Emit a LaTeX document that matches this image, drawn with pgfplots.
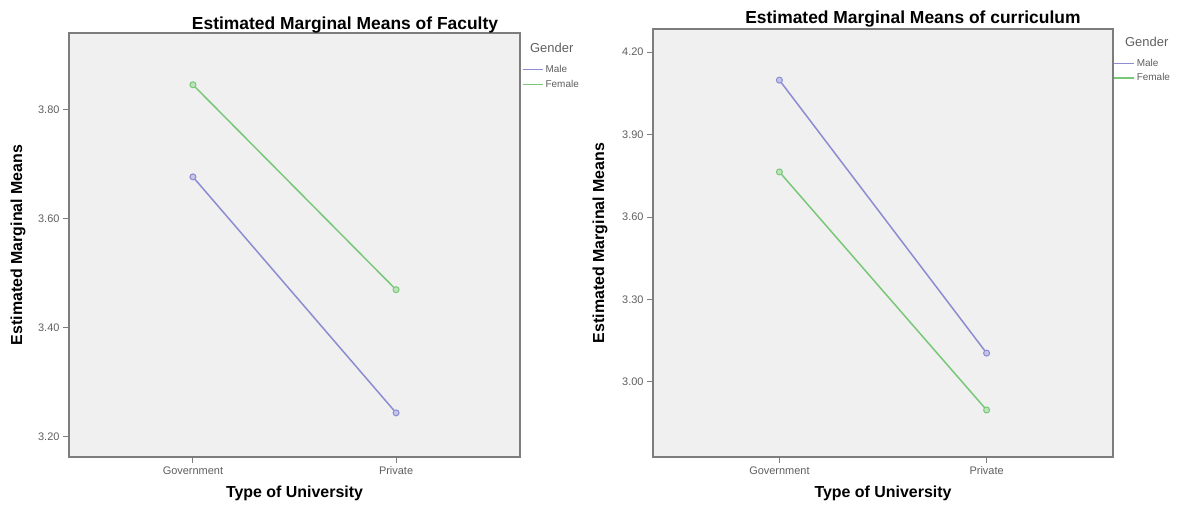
\documentclass[border=0pt]{standalone}
\usepackage{fontspec}
\setmainfont{Liberation Sans}
\usepackage{pgfplots}
\pgfplotsset{compat=1.18}
\definecolor{male}{RGB}{140,140,210}
\definecolor{female}{RGB}{120,200,120}
\definecolor{bg}{RGB}{240,240,240}
\definecolor{axgray}{RGB}{125,125,125}
\definecolor{txtgray}{RGB}{95,95,95}
\pgfplotsset{spss/.style={
  scale only axis, clip=false,
  axis background/.style={fill=bg},
  axis line style={axgray, line width=1.3bp},
  tick align=outside, xtick pos=bottom, ytick pos=left,
  major tick length=6bp,
  tick style={axgray, line width=1bp},
  xmin=0.39, xmax=2.61, xtick={1,2}, xticklabels={Government,Private},
  ticklabel style={font=\fontsize{11}{13}\selectfont, text=txtgray},
  yticklabel style={/pgf/number format/fixed, /pgf/number format/fixed zerofill, /pgf/number format/precision=2},
  /pgf/number format/assume math mode=true,
  label style={font=\fontsize{16}{18}\selectfont\bfseries},
  xlabel={Type of University}, ylabel={Estimated Marginal Means},
  title style={font=\fontsize{17.5}{20}\selectfont\bfseries, anchor=base},
  legend style={draw=none, fill=none, font=\fontsize{10}{12}\selectfont, text=txtgray, anchor=north west, inner sep=0pt, row sep=2bp, cells={anchor=west}},
  legend image code/.code={\draw[#1, line width=1.6bp] (0bp,0bp) -- (20bp,0bp);},
  every axis plot/.append style={line width=1.5bp},
}}
\begin{document}
\begin{tikzpicture}
\useasboundingbox (0,0) rectangle (1178bp,506bp);
% Left chart
\begin{axis}[spss,
  at={(69bp,49bp)}, anchor=south west, width=451bp, height=424bp,
  ymin=3.163, ymax=3.941, ytick={3.2,3.4,3.6,3.8},
  title={Estimated Marginal Means of Faculty},
  title style={at={(axis description cs:0.612,1)}, yshift=-2bp},
  xlabel style={at={(axis description cs:0.5,-0.085)}, anchor=center},
  ylabel style={at={(axis description cs:-0.113,0.5)}, anchor=center},
  legend style={at={(axis description cs:1.004,0.929)}},
]
\addplot[male, mark=*, mark size=3bp, mark options={fill=male!50!white, line width=1bp}] coordinates {(1,3.677) (2,3.244)};
\addlegendentry{Male}
\addplot[female, mark=*, mark size=3bp, mark options={fill=female!50!white, line width=1bp}] coordinates {(1,3.846) (2,3.470)};
\addlegendentry{Female}
\node[anchor=west, font=\fontsize{13}{15}\selectfont, text=txtgray, inner sep=0pt] at (axis description cs:1.022,0.965) {Gender};
\end{axis}
% Right chart
\begin{axis}[spss,
  at={(653bp,49bp)}, anchor=south west, width=460bp, height=428bp,
  ymin=2.727, ymax=4.284, ytick={3.0,3.3,3.6,3.9,4.2},
  title={Estimated Marginal Means of curriculum},
  title style={at={(axis description cs:0.565,1)}, yshift=0bp},
  xlabel style={at={(axis description cs:0.5,-0.084)}, anchor=center},
  ylabel style={at={(axis description cs:-0.115,0.5)}, anchor=center},
  legend style={at={(axis description cs:1.0,0.935)}},
]
\addplot[male, mark=*, mark size=3bp, mark options={fill=male!50!white, line width=1bp}] coordinates {(1,4.098) (2,3.105)};
\addlegendentry{Male}
\addplot[female, mark=*, mark size=3bp, mark options={fill=female!50!white, line width=1bp}] coordinates {(1,3.764) (2,2.898)};
\addlegendentry{Female}
\node[anchor=west, font=\fontsize{13}{15}\selectfont, text=txtgray, inner sep=0pt] at (axis description cs:1.026,0.970) {Gender};
\end{axis}
\end{tikzpicture}
\end{document}
